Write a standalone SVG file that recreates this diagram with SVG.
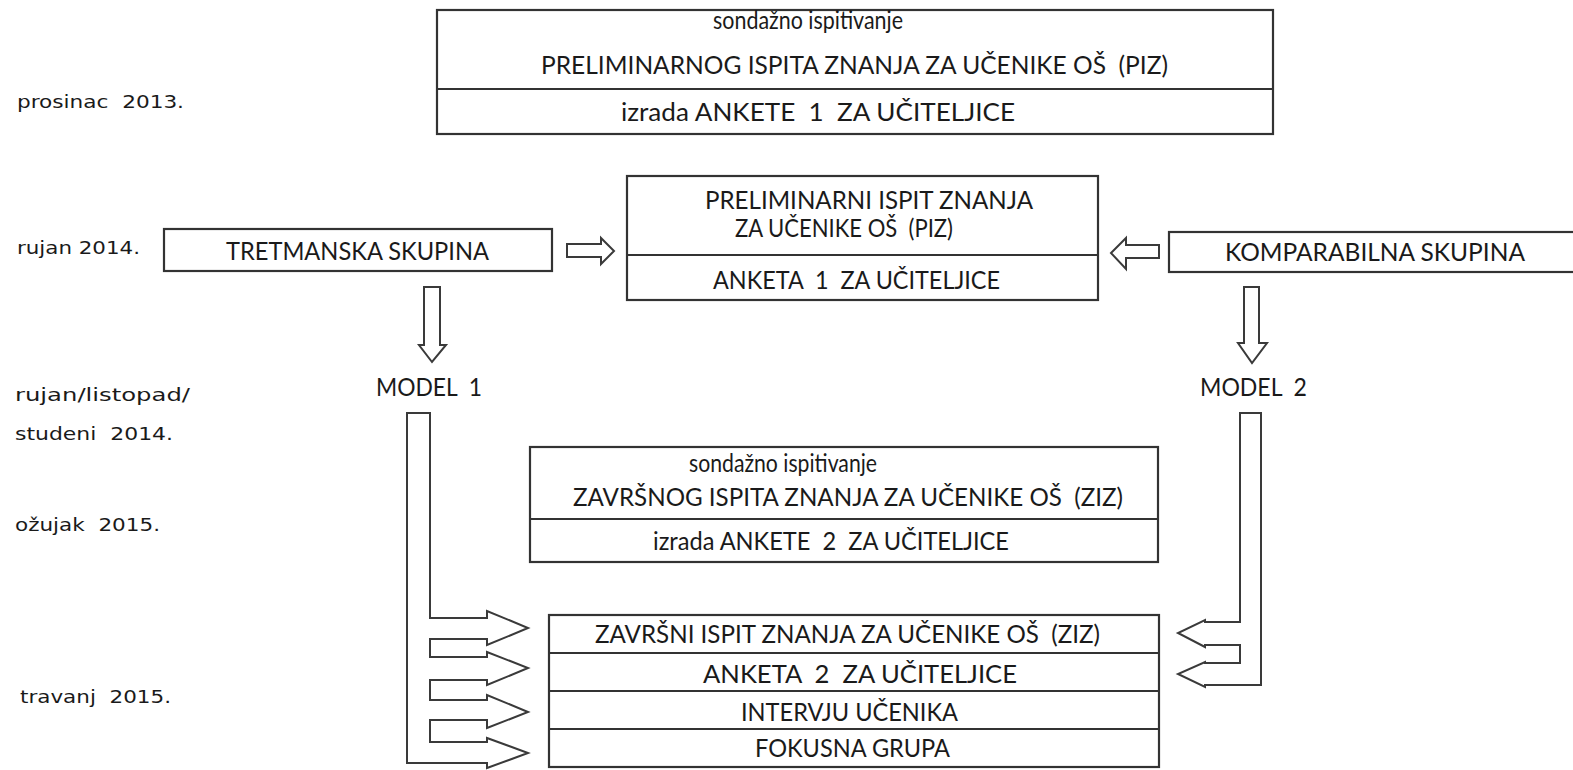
<svg xmlns="http://www.w3.org/2000/svg" width="1573" height="770" viewBox="0 0 1573 770" xml:space="preserve">
<style>
.box{fill:#fff;stroke:#333;stroke-width:2.2}
.div{stroke:#333;stroke-width:2.2;fill:none}
.arr{fill:#fff;stroke:#3a3a3a;stroke-width:2;stroke-linejoin:miter}
.t{font-family:Lato,"Liberation Sans",sans-serif;font-size:25px;fill:#1a1a1a;white-space:pre}
.lbl{font-family:"DejaVu Sans","Liberation Sans",sans-serif;font-size:18px;fill:#1a1a1a;white-space:pre}
</style>
<rect width="1573" height="770" fill="#fff"/>
<g id="timeline">
<text class="lbl" x="17" y="108" textLength="167" lengthAdjust="spacingAndGlyphs">prosinac  2013.</text>
<text class="lbl" x="17" y="254" textLength="123" lengthAdjust="spacingAndGlyphs">rujan 2014.</text>
<text class="lbl" x="15" y="401" textLength="175" lengthAdjust="spacingAndGlyphs">rujan/listopad/</text>
<text class="lbl" x="15" y="440" textLength="158" lengthAdjust="spacingAndGlyphs">studeni  2014.</text>
<text class="lbl" x="15" y="531" textLength="145" lengthAdjust="spacingAndGlyphs">ožujak  2015.</text>
<text class="lbl" x="20" y="703" textLength="151" lengthAdjust="spacingAndGlyphs">travanj  2015.</text>
</g>
<g id="piz-probe">
<rect class="box" x="437" y="10" width="836" height="124"/>
<line class="div" x1="437" y1="89" x2="1273" y2="89"/>
<text class="t" x="713" y="29" textLength="190" lengthAdjust="spacingAndGlyphs">sondažno ispitivanje</text>
<text class="t" x="541" y="74" textLength="627" lengthAdjust="spacingAndGlyphs">PRELIMINARNOG ISPITA ZNANJA ZA UČENIKE OŠ  (PIZ)</text>
<text class="t" x="621" y="121" textLength="394" lengthAdjust="spacingAndGlyphs">izrada ANKETE  1  ZA UČITELJICE</text>
</g>
<g id="piz">
<rect class="box" x="627" y="176" width="471" height="124"/>
<line class="div" x1="627" y1="255" x2="1098" y2="255"/>
<text class="t" x="705" y="209" textLength="328" lengthAdjust="spacingAndGlyphs">PRELIMINARNI ISPIT ZNANJA</text>
<text class="t" x="735" y="237" textLength="218" lengthAdjust="spacingAndGlyphs">ZA UČENIKE OŠ  (PIZ)</text>
<text class="t" x="713" y="289" textLength="287" lengthAdjust="spacingAndGlyphs">ANKETA  1  ZA UČITELJICE</text>
</g>
<g id="tretmanska">
<rect class="box" x="164" y="229" width="388" height="42"/>
<text class="t" x="226" y="260" textLength="263" lengthAdjust="spacingAndGlyphs">TRETMANSKA SKUPINA</text>
</g>
<g id="komparabilna">
<rect class="box" x="1169" y="232" width="410" height="40"/>
<text class="t" x="1225" y="261" textLength="300" lengthAdjust="spacingAndGlyphs">KOMPARABILNA SKUPINA</text>
</g>
<g id="model1">
<text class="t" x="376" y="396" textLength="106" lengthAdjust="spacingAndGlyphs">MODEL  1</text>
</g>
<g id="model2">
<text class="t" x="1200" y="396" textLength="107" lengthAdjust="spacingAndGlyphs">MODEL  2</text>
</g>
<g id="ziz-probe">
<rect class="box" x="530" y="447" width="628" height="115"/>
<line class="div" x1="530" y1="519" x2="1158" y2="519"/>
<text class="t" x="689" y="472" textLength="188" lengthAdjust="spacingAndGlyphs">sondažno ispitivanje</text>
<text class="t" x="573" y="506" textLength="550" lengthAdjust="spacingAndGlyphs">ZAVRŠNOG ISPITA ZNANJA ZA UČENIKE OŠ  (ZIZ)</text>
<text class="t" x="653" y="550" textLength="356" lengthAdjust="spacingAndGlyphs">izrada ANKETE  2  ZA UČITELJICE</text>
</g>
<g id="ziz">
<rect class="box" x="549" y="615" width="610" height="152"/>
<line class="div" x1="549" y1="653" x2="1159" y2="653"/>
<line class="div" x1="549" y1="691" x2="1159" y2="691"/>
<line class="div" x1="549" y1="729" x2="1159" y2="729"/>
<text class="t" x="595" y="643" textLength="505" lengthAdjust="spacingAndGlyphs">ZAVRŠNI ISPIT ZNANJA ZA UČENIKE OŠ  (ZIZ)</text>
<text class="t" x="703" y="683" textLength="314" lengthAdjust="spacingAndGlyphs">ANKETA  2  ZA UČITELJICE</text>
<text class="t" x="741" y="721" textLength="217" lengthAdjust="spacingAndGlyphs">INTERVJU UČENIKA</text>
<text class="t" x="755" y="757" textLength="195" lengthAdjust="spacingAndGlyphs">FOKUSNA GRUPA</text>
</g>
<g id="connectors">
<path class="arr" d="M567,244 H601 V238 L614,251 L601,264 V257 H567 Z"/>
<path class="arr" d="M1159,245 H1126 V238 L1111,253 L1126,269 V258 H1159 Z"/>
<path class="arr" d="M424,287 H440 V345 H446 L432,362 L419,345 H424 Z"/>
<path class="arr" d="M1244,287 H1259 V343 H1267 L1252,363 L1238,343 H1244 Z"/>
<path class="arr" d="M407,413 H430 V618 H487 V611 L528,628 L487,645 V639 H430 V657 H487 V652 L528,668 L487,685 V680 H430 V700 H487 V695 L528,712 L487,728 V720 H430 V742 H487 V738 L528,753 L487,768 V763 H407 Z"/>
<path class="arr" d="M1261,413 H1240 V622 H1205 V620 L1178,633 L1205,647 V645 H1240 V663 H1205 V662 L1178,674 L1205,687 V685 H1261 Z"/>
</g>
</svg>
